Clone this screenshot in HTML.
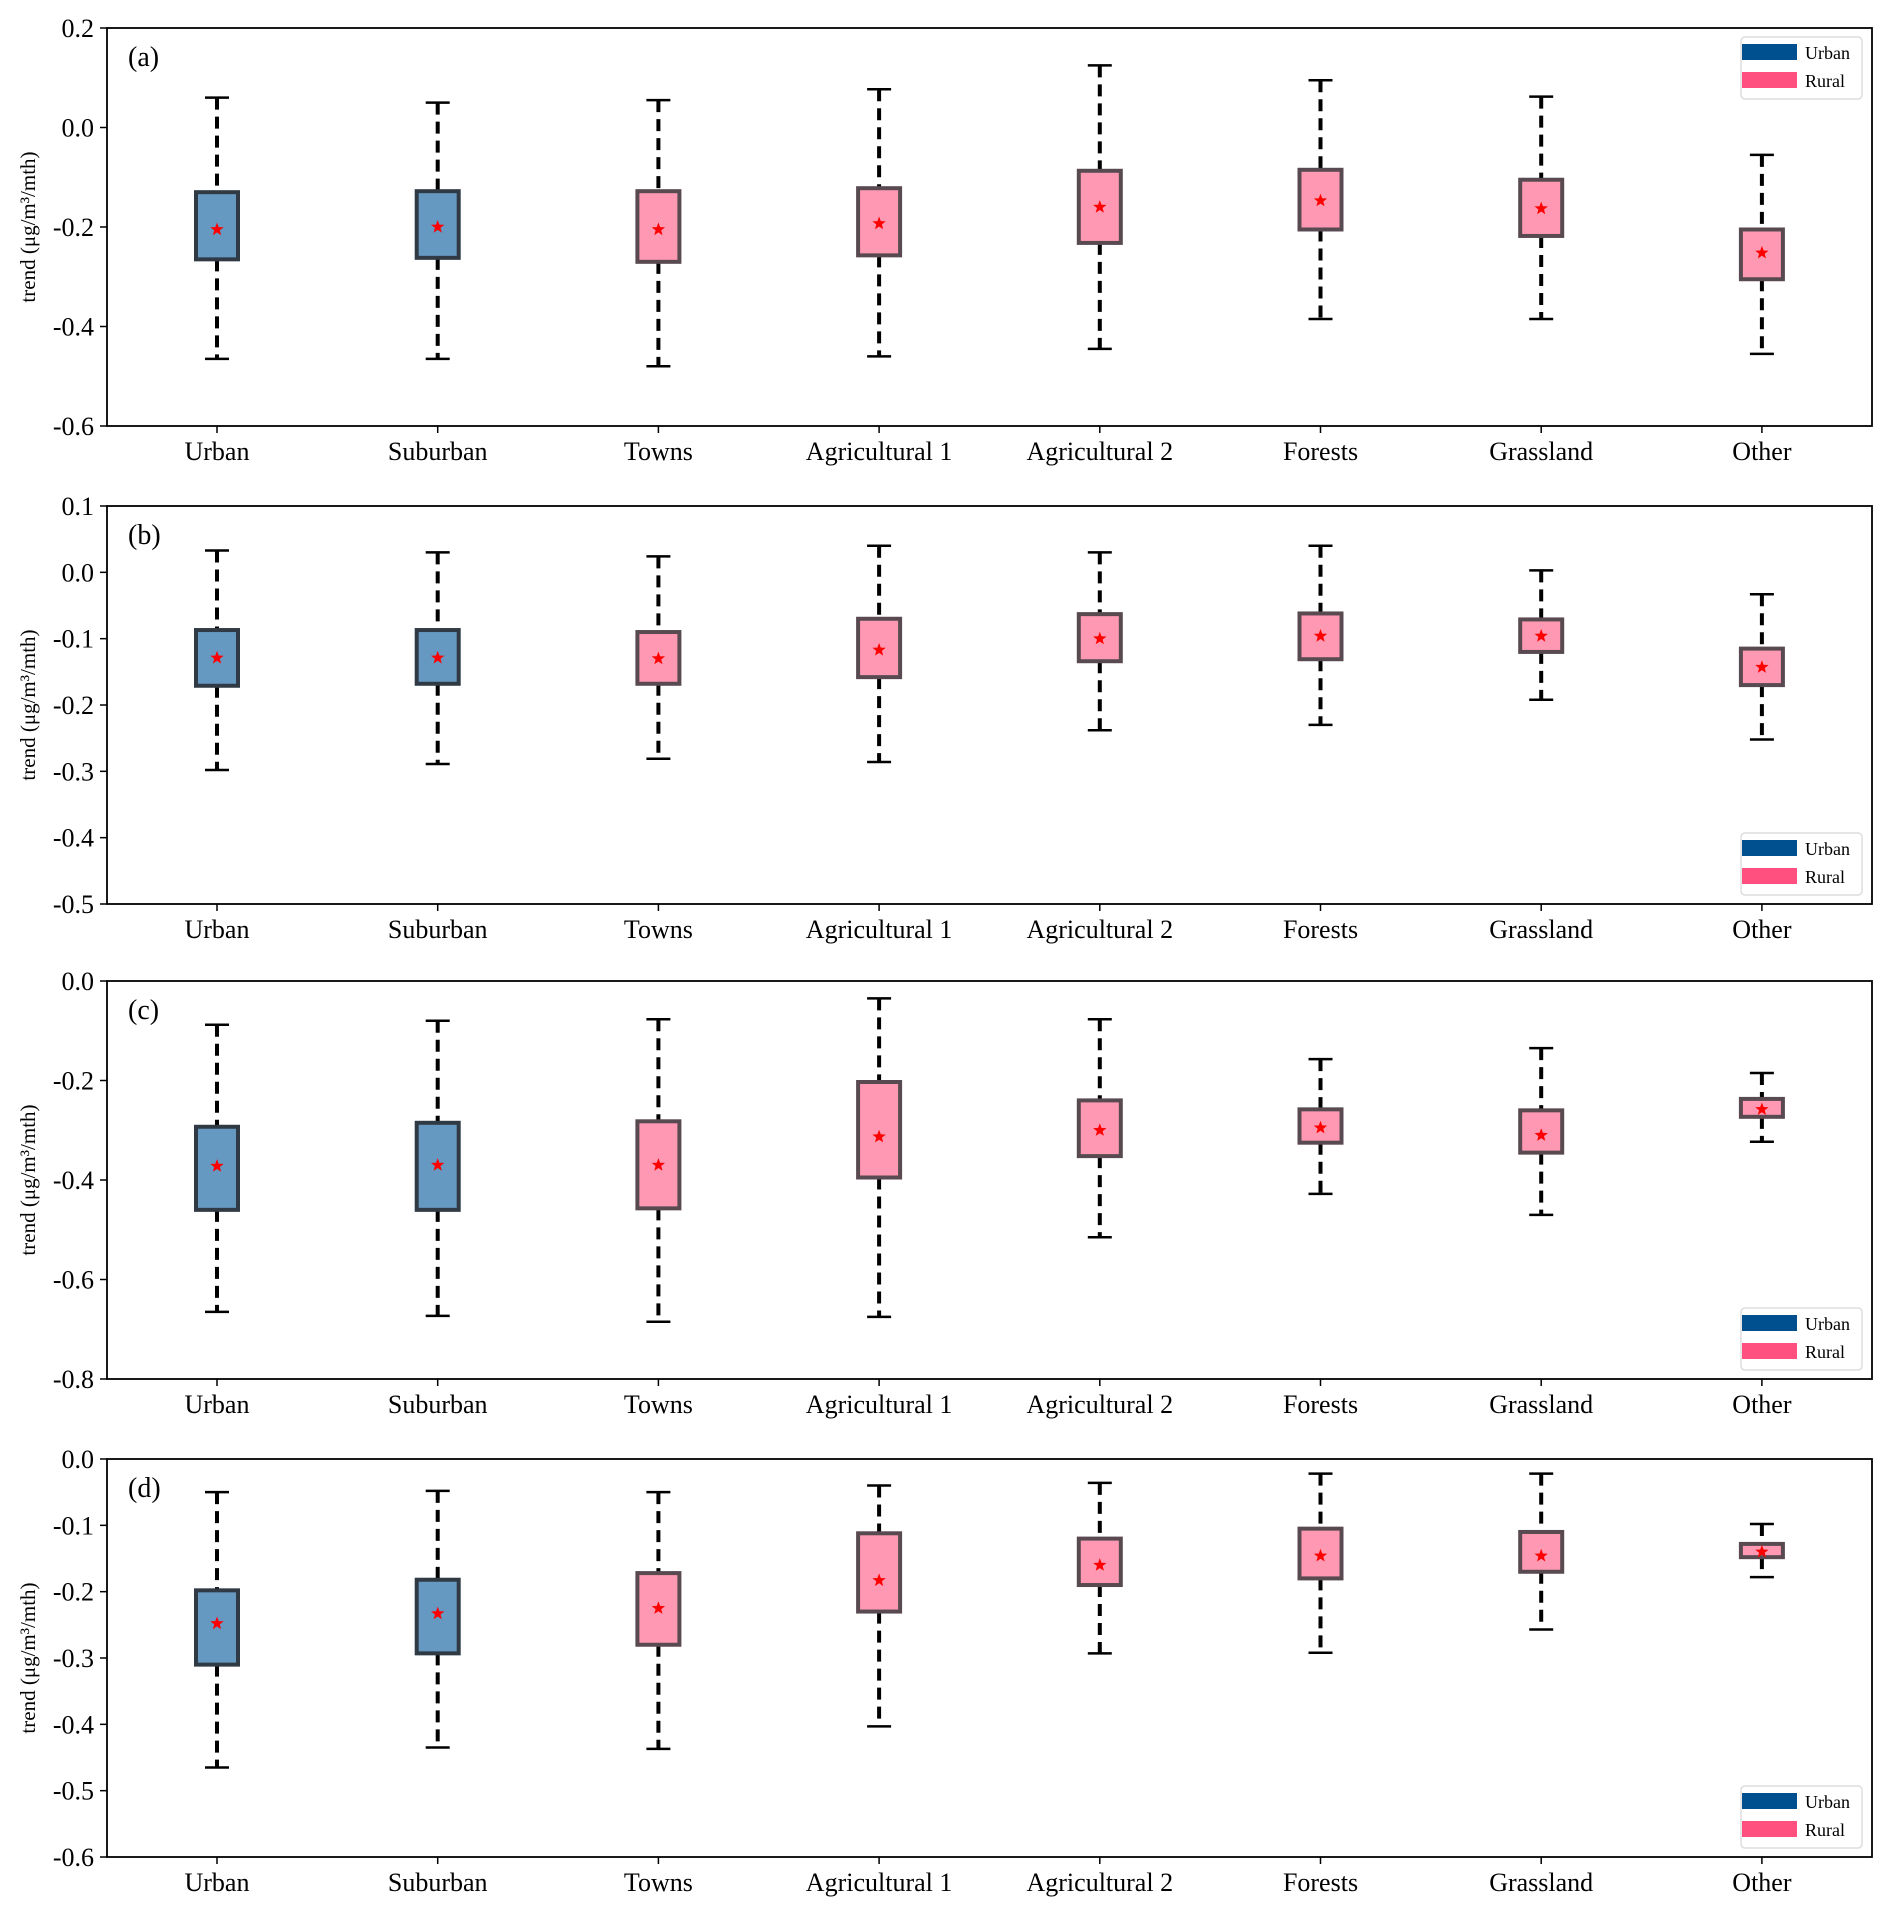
<!DOCTYPE html>
<html><head><meta charset="utf-8"><style>
body{margin:0;background:#fff;}
svg{display:block;font-family:"Liberation Serif",serif;}
</style></head><body>
<svg id="chart" width="1892" height="1917" viewBox="0 0 1892 1917" xmlns="http://www.w3.org/2000/svg"></svg>
<script>
const categories = ["Urban","Suburban","Towns","Agricultural 1","Agricultural 2","Forests","Grassland","Other"];
const groups = ["urban","urban","rural","rural","rural","rural","rural","rural"];
const panelLabels = ["(a)","(b)","(c)","(d)"];
const yMins = [-0.6,-0.5,-0.8,-0.6];
const yMaxs = [0.2,0.1,0.0,0.0];
const yTicksA = [0.2,0.0,-0.2,-0.4,-0.6];
const yTicksB = [0.1,0.0,-0.1,-0.2,-0.3,-0.4,-0.5];
const yTicksC = [0.0,-0.2,-0.4,-0.6,-0.8];
const yTicksD = [0.0,-0.1,-0.2,-0.3,-0.4,-0.5,-0.6];
// each: [whiskerHigh, q3, q1, whiskerLow, mean]
const statsA = [[0.06,-0.13,-0.265,-0.465,-0.205],[0.05,-0.128,-0.262,-0.465,-0.2],[0.055,-0.128,-0.27,-0.48,-0.205],[0.077,-0.122,-0.257,-0.46,-0.193],[0.125,-0.087,-0.232,-0.445,-0.16],[0.095,-0.085,-0.205,-0.385,-0.147],[0.062,-0.105,-0.218,-0.385,-0.163],[-0.055,-0.205,-0.305,-0.455,-0.252]];
const statsB = [[0.033,-0.087,-0.171,-0.298,-0.129],[0.03,-0.087,-0.168,-0.289,-0.129],[0.024,-0.09,-0.168,-0.281,-0.13],[0.04,-0.07,-0.158,-0.286,-0.117],[0.03,-0.063,-0.134,-0.238,-0.1],[0.04,-0.062,-0.131,-0.23,-0.096],[0.003,-0.071,-0.12,-0.192,-0.096],[-0.033,-0.115,-0.17,-0.252,-0.143]];
const statsC = [[-0.088,-0.293,-0.46,-0.665,-0.372],[-0.08,-0.285,-0.46,-0.673,-0.37],[-0.077,-0.282,-0.457,-0.685,-0.37],[-0.035,-0.203,-0.395,-0.675,-0.313],[-0.077,-0.24,-0.352,-0.515,-0.3],[-0.157,-0.258,-0.325,-0.428,-0.295],[-0.135,-0.26,-0.345,-0.47,-0.31],[-0.185,-0.237,-0.273,-0.323,-0.258]];
const statsD = [[-0.05,-0.198,-0.31,-0.465,-0.248],[-0.048,-0.182,-0.293,-0.435,-0.233],[-0.05,-0.172,-0.28,-0.437,-0.225],[-0.04,-0.112,-0.23,-0.403,-0.183],[-0.036,-0.12,-0.19,-0.293,-0.16],[-0.022,-0.105,-0.18,-0.292,-0.146],[-0.022,-0.11,-0.17,-0.257,-0.146],[-0.098,-0.128,-0.148,-0.178,-0.14]];
const allStats=[statsA,statsB,statsC,statsD];
const allTicks=[yTicksA,yTicksB,yTicksC,yTicksD];
const legendTop=[true,false,false,false];

const NS="http://www.w3.org/2000/svg";
const svg=document.getElementById('chart');
function mk(tag,attrs,parent){const e=document.createElementNS(NS,tag);for(const k in attrs)e.setAttribute(k,attrs[k]);(parent||svg).appendChild(e);return e;}
const L=107,R=1872,H=398,tops=[28,506,981,1459];
const x0=217,dx=220.7;
function xs(i){return x0+i*dx;}
function fmt(v){const s=Math.abs(v).toFixed(1);return (v<-0.00001?"-":"")+s;}
function star(cx,cy,r){let p=[];for(let k=0;k<10;k++){const a=-Math.PI/2+k*Math.PI/5;const rr=k%2?r*0.42:r;p.push((cx+rr*Math.cos(a)).toFixed(1)+","+(cy+rr*Math.sin(a)).toFixed(1));}return p.join(" ");}

for(let p=0;p<4;p++){
  const T=tops[p],B=T+H,mn=yMins[p],mx=yMaxs[p];
  const ys=v=>T+(mx-v)/(mx-mn)*H;
  const g=mk('g',{});
  
  
  allTicks[p].forEach(t=>{
    const y=ys(t);
    mk('line',{x1:L-7,x2:L,y1:y,y2:y,stroke:'#000','stroke-width':1.5},g);
    const tx=mk('text',{x:L-13,y:y+9,'text-anchor':'end','font-size':26,fill:'#000'},g);
    tx.textContent=fmt(t);
    
    
  });
  const yl=mk('text',{x:0,y:0,'font-size':21,'text-anchor':'middle',transform:`translate(35,${T+H/2}) rotate(-90)`},g);
  yl.textContent='trend (μg/m³/mth)';
  
  
  const pl=mk('text',{x:128,y:T+38,'font-size':28},g);
  pl.textContent=panelLabels[p];
  
  
  categories.forEach((c,i)=>{
    const x=xs(i),s=allStats[p][i];
    mk('line',{x1:x,x2:x,y1:B,y2:B+7,stroke:'#000','stroke-width':1.5},g);
    const cl=mk('text',{x:x,y:B+34,'text-anchor':'middle','font-size':26},g);
    cl.textContent=c;
    
    
    const bg=mk('g',{},g);
    
    
    const urban=groups[i]==='urban';
    mk('line',{x1:x,x2:x,y1:ys(s[0]),y2:ys(s[1]),stroke:'#000','stroke-width':4,'stroke-dasharray':'12,7'},bg);
    mk('line',{x1:x,x2:x,y1:ys(s[2]),y2:ys(s[3]),stroke:'#000','stroke-width':4,'stroke-dasharray':'12,7'},bg);
    mk('line',{x1:x-12,x2:x+12,y1:ys(s[0]),y2:ys(s[0]),stroke:'#000','stroke-width':2.5},bg);
    mk('line',{x1:x-12,x2:x+12,y1:ys(s[3]),y2:ys(s[3]),stroke:'#000','stroke-width':2.5},bg);
    mk('rect',{x:x-21,y:ys(s[1]),width:42,height:ys(s[2])-ys(s[1]),fill:urban?'#6699c2':'#ff99b3',stroke:urban?'#2f3a44':'#584a50','stroke-width':4},bg);
    mk('polygon',{points:star(x,ys(s[4]),7),fill:'#ff0000'},bg);
  });
  mk('rect',{x:L,y:T,width:R-L,height:H,fill:'none',stroke:'#000','stroke-width':1.8},g);
  const lg=mk('g',{},g);
  
  
  const ly=legendTop[p]?T+9:B-71;
  mk('rect',{x:1741,y:ly,width:121,height:62,rx:4,fill:'#fff',stroke:'#ddd','stroke-width':1.5},lg);
  mk('rect',{x:1742,y:ly+7,width:55,height:16,fill:'#00508f'},lg);
  mk('rect',{x:1742,y:ly+35,width:55,height:16,fill:'#ff5080'},lg);
  const t1=mk('text',{x:1805,y:ly+22,'font-size':18},lg);t1.textContent='Urban';
  
  
  const t2=mk('text',{x:1805,y:ly+50,'font-size':18},lg);t2.textContent='Rural';
  
  
}
</script>
</body></html>
